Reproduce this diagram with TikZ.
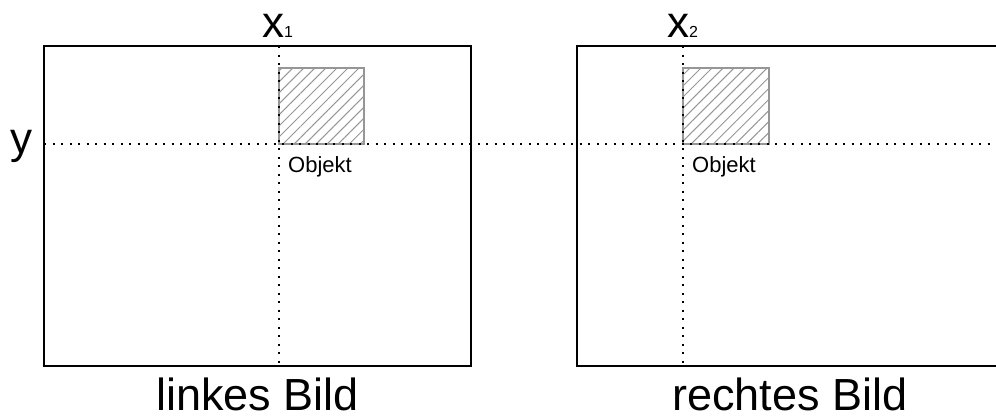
\documentclass[tikz,border=0pt]{standalone}
\usepackage{fontspec}
\setmainfont{Liberation Sans}
\usetikzlibrary{patterns.meta}

\definecolor{hatchgray}{RGB}{150,150,150}

\tikzset{
  frame/.style={draw=black, line width=2pt},
  guide/.style={draw=black, line width=2.1pt, dash pattern=on 2.1pt off 6.4pt},
  objbox/.style={draw=hatchgray, line width=1.5pt,
    pattern={Lines[angle=45, distance=7.8pt, line width=1pt]},
    pattern color=hatchgray},
  txt/.style={inner sep=0pt, anchor=base west},
  bigtxt/.style={inner sep=0pt, anchor=base, text depth=0pt, font=\fontsize{45}{45}\selectfont},
  smalltxt/.style={txt, font=\fontsize{22}{22}\selectfont}
}

\newcommand{\coordlabel}[1]{{\fontsize{44}{44}\selectfont x}{\fontsize{16}{16}\selectfont #1}}

\begin{document}
\begin{tikzpicture}[x=1pt, y=-1pt]
  \useasboundingbox (0,0) rectangle (996,416);
  \clip (0,0) rectangle (996,416);

  % hatched object in both images
  \path[objbox] (279,68) rectangle (364,144);
  \path[objbox] (683,68) rectangle (769,144);

  % image frames
  \coordinate (L1) at (44,46);
  \coordinate (L2) at (471,366);
  \coordinate (R1) at (577,46);
  \coordinate (R2) at (1004,366);

  % guide lines: common row y, columns x1 and x2
  \coordinate (ya) at (44,144);
  \coordinate (yb) at (1000,144);
  \coordinate (x1t) at (279,46);
  \coordinate (x1b) at (279,366);
  \coordinate (x2t) at (683,46);
  \coordinate (x2b) at (683,366);
  \draw[guide] (ya) -- (yb);
  \draw[guide] (x1t) -- (x1b);
  \draw[guide] (x2t) -- (x2b);

  \draw[frame] (L1) rectangle (L2);
  \draw[frame] (R1) rectangle (R2);

  % labels
  \node[txt] (lx1) at (262,37) {\coordlabel{1}};
  \node[txt] (lx2) at (667,37) {\coordlabel{2}};
  \node[txt, font=\fontsize{44}{44}\selectfont] (ly) at (10,153) {y};
  \node[smalltxt] (obj1) at (288,172) {Objekt};
  \node[smalltxt] (obj2) at (692,172) {Objekt};
  \node[bigtxt] (capl) at (257.5,410) {linkes Bild};
  \node[bigtxt] (capr) at (790,410) {rechtes Bild};
\end{tikzpicture}
\end{document}
